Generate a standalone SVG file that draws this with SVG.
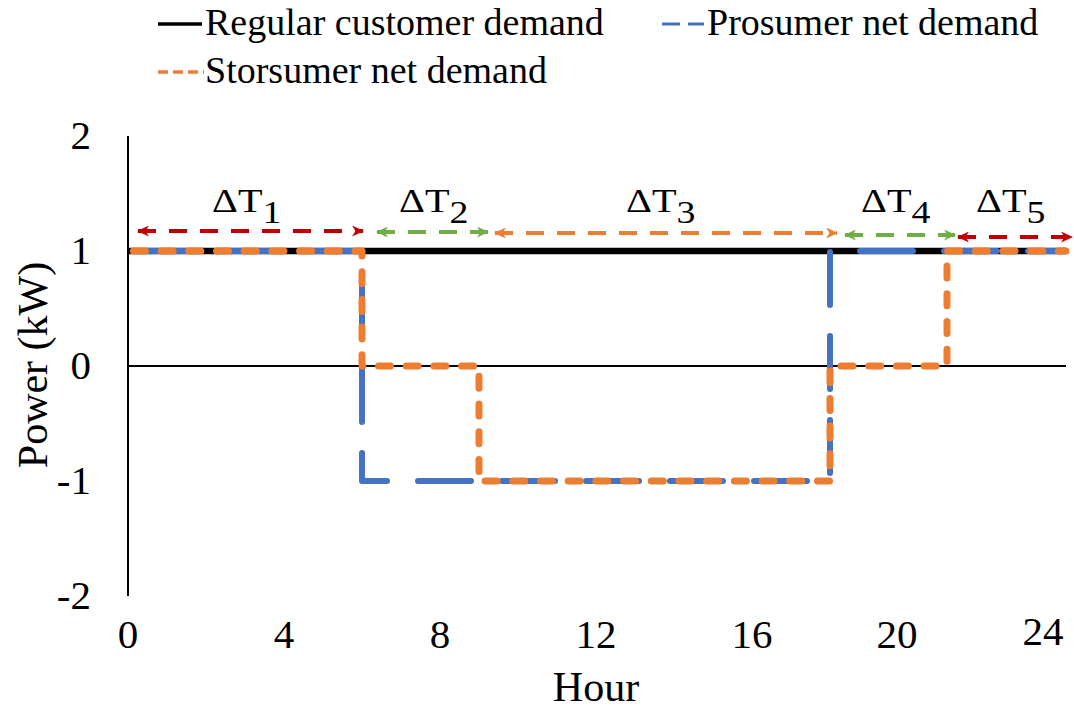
<svg xmlns="http://www.w3.org/2000/svg" width="1074" height="708" viewBox="0 0 1074 708">
<style>
text{font-family:"Liberation Serif","Times New Roman",serif;fill:#000}
.leg{font-size:38px}
.ytick{font-size:41px;text-anchor:end}
.xtick{font-size:41px;text-anchor:middle}
.title{font-size:42px;text-anchor:middle}
.dt{font-size:33px}
.sub{font-size:31px}
.arr{stroke-width:4;stroke-dasharray:18 13;fill:none}
</style>
<defs>
<marker id="ah-red" viewBox="0 0 12 11" refX="11" refY="5.5" markerWidth="12" markerHeight="11" markerUnits="userSpaceOnUse" orient="auto-start-reverse"><path d="M0,0 L12,5.5 L0,11 L3.5,5.5 Z" fill="#C00000"/></marker>
<marker id="ah-green" viewBox="0 0 12 11" refX="11" refY="5.5" markerWidth="12" markerHeight="11" markerUnits="userSpaceOnUse" orient="auto-start-reverse"><path d="M0,0 L12,5.5 L0,11 L3.5,5.5 Z" fill="#70AD47"/></marker>
<marker id="ah-orange" viewBox="0 0 12 11" refX="11" refY="5.5" markerWidth="12" markerHeight="11" markerUnits="userSpaceOnUse" orient="auto-start-reverse"><path d="M0,0 L12,5.5 L0,11 L3.5,5.5 Z" fill="#ED7D31"/></marker>
</defs>
<rect width="1074" height="708" fill="#fff"/>

<g id="legend">
<line x1="158" y1="24" x2="202" y2="24" stroke="#000" stroke-width="3.5"/>
<text class="leg" x="205" y="35">Regular customer demand</text>
<line x1="662" y1="24" x2="704" y2="24" stroke="#4472C4" stroke-width="3" stroke-dasharray="18 8"/>
<text class="leg" x="707" y="35">Prosumer net demand</text>
<line x1="158" y1="72" x2="204" y2="72" stroke="#ED7D31" stroke-width="3.5" stroke-dasharray="10 5"/>
<text class="leg" x="205" y="83">Storsumer net demand</text>
</g>

<g id="axes">
<line x1="128" y1="366" x2="1066" y2="366" stroke="#000" stroke-width="2"/>
<line x1="128" y1="136" x2="128" y2="596" stroke="#000" stroke-width="2"/>
<text class="ytick" x="91" y="149">2</text>
<text class="ytick" x="91" y="264">1</text>
<text class="ytick" x="91" y="379">0</text>
<text class="ytick" x="91" y="494">-1</text>
<text class="ytick" x="91" y="609">-2</text>
<text class="xtick" x="128" y="648">0</text>
<text class="xtick" x="284" y="648">4</text>
<text class="xtick" x="440" y="648">8</text>
<text class="xtick" x="596" y="648">12</text>
<text class="xtick" x="752" y="648">16</text>
<text class="xtick" x="897" y="648">20</text>
<text class="xtick" x="1043" y="645">24</text>
<text class="title" x="596" y="701">Hour</text>
<text class="title" transform="translate(47,365) rotate(-90)">Power (kW)</text>
</g>

<g id="series">
<path id="regular" d="M128,251 H1066" stroke="#000" stroke-width="6.5" fill="none"/>
<path id="prosumer" d="M128,251 H362 V481 H830 V251 H1066" stroke="#4472C4" stroke-width="6" fill="none" stroke-linecap="round" stroke-linejoin="round" stroke-dasharray="53 31" stroke-dashoffset="68"/>
<path id="storsumer" d="M128,251 H362 V366 H479 V481 H830 V366 H947 V251 H1066" stroke="#ED7D31" stroke-width="7" fill="none" stroke-linecap="round" stroke-linejoin="round" stroke-dasharray="12 15.7" stroke-dashoffset="22.3"/>
</g>

<g id="connectors">
<line class="arr" x1="138" y1="231" x2="363" y2="231" stroke="#C00000" marker-start="url(#ah-red)" marker-end="url(#ah-red)"/>
<line class="arr" x1="377" y1="232" x2="488" y2="232" stroke="#70AD47" marker-start="url(#ah-green)" marker-end="url(#ah-green)"/>
<line class="arr" x1="495" y1="233" x2="837" y2="233" stroke="#ED7D31" marker-start="url(#ah-orange)" marker-end="url(#ah-orange)"/>
<line class="arr" x1="845" y1="235" x2="955" y2="235" stroke="#70AD47" marker-start="url(#ah-green)" marker-end="url(#ah-green)"/>
<line class="arr" x1="958" y1="237" x2="1072" y2="237" stroke="#C00000" marker-start="url(#ah-red)" marker-end="url(#ah-red)"/>
</g>

<g id="labels">
<g id="dt1"><text class="dt" transform="translate(212,212) scale(1.22,1)">ΔT<tspan class="sub" dy="11">1</tspan></text></g>
<g id="dt2"><text class="dt" transform="translate(399,212) scale(1.22,1)">ΔT<tspan class="sub" dy="11">2</tspan></text></g>
<g id="dt3"><text class="dt" transform="translate(626,212) scale(1.22,1)">ΔT<tspan class="sub" dy="11">3</tspan></text></g>
<g id="dt4"><text class="dt" transform="translate(861,212) scale(1.22,1)">ΔT<tspan class="sub" dy="11">4</tspan></text></g>
<g id="dt5"><text class="dt" transform="translate(976,212) scale(1.22,1)">ΔT<tspan class="sub" dy="11">5</tspan></text></g>
</g>
</svg>
